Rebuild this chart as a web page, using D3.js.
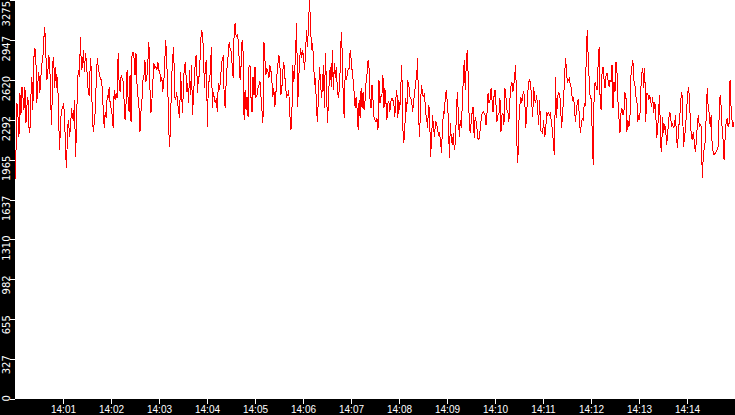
<!DOCTYPE html>
<html>
<head>
<meta charset="utf-8">
<script src="https://cdn.jsdelivr.net/npm/d3@7"></script>
<style>
  html, body { margin: 0; padding: 0; background: #000; }
  #chart { width: 735px; height: 415px; }
</style>
</head>
<body>
<div id="chart"></div>
<script>
// 計測値 (14:00:00 - 14:15:00)
const startTime = '14:00:00';
const endTime = '14:15:00';

const values = [
  // 14:00 - 14:03
  1798, 2030, 2427, 2317, 2153, 2509, 2331, 2564, 2482, 2372, 2564, 2263, 2400, 2482, 2235, 2181,
  2482, 2646, 2372, 2796, 2878, 2824, 2427, 2591, 2687, 2509, 2632, 2755, 2783, 2947, 3056, 2865,
  2618, 2659, 2824, 2769, 2427, 2249, 2755, 2810, 2550, 2728, 2550, 2646, 2290, 2044, 2290, 2372,
  2386, 2427, 2317, 2017, 1893, 2235, 2290, 2153, 2235, 2386, 2304, 2290, 2454, 1989, 2208, 2618,
  2700, 2646, 2974, 2700, 2728, 2865, 2687, 2837, 2769, 2632, 2509, 2495, 2796, 2700, 2304, 2194,
  2276, 2372, 2632, 2796, 2714, 2673, 2632, 2618, 2550, 2372, 2222, 2358, 2304, 2495, 2468, 2564,
  2413, 2386, 2331, 2222, 2536, 2454, 2509, 2468, 2837, 2591, 2523, 2659, 2632, 2605, 2454, 2290,
  2427, 2700, 2468, 2358, 2659, 2276, 2824, 2851, 2796, 2659, 2837, 2591, 2482, 2400, 2194, 2358,
  2454, 2618, 2646, 2783, 2605, 2646, 2769, 2933, 2564, 2345, 2441, 2605, 2755, 2714, 2728, 2700,
  2769, 2700,
  // 14:03 - 14:06
  2687, 2605, 2646, 2523, 2591, 2769, 2947, 2755, 2591, 2208, 2071, 2331, 2646, 2796, 2892, 2482,
  2454, 2523, 2427, 2358, 2304, 2687, 2495, 2345, 2632, 2728, 2769, 2523, 2591, 2427, 2700, 2495,
  2741, 2331, 2495, 2646, 2796, 2824, 2509, 2646, 2646, 2892, 3029, 3001, 2865, 2550, 2741, 2783,
  2235, 2605, 2605, 2687, 2892, 2386, 2523, 2468, 2427, 2468, 2358, 2591, 2536, 2591, 2714, 2796,
  2810, 2454, 2386, 2618, 2741, 2824, 2933, 2865, 2851, 2741, 2632, 3029, 3083, 2974, 2988, 2947,
  2796, 2618, 2741, 2947, 2851, 2290, 2536, 2372, 2482, 2317, 2741, 2728, 2468, 2358, 2646, 2495,
  2728, 2482, 2495, 2550, 2577, 2605, 2482, 2372, 2263, 2933, 2783, 2659, 2714, 2687, 2632, 2741,
  2700, 2618, 2482, 2550, 2400, 2495, 2646, 2741, 2824, 2783, 2495, 2536, 2687, 2769, 2659, 2550,
  2482, 2495, 2536, 2358, 2208, 2235, 2741, 2605, 2673, 2865, 3083, 2400, 2605, 2783, 2878, 2796,
  2865,
  // 14:06 - 14:09
  2796, 2700, 2851, 3029, 2892, 3083, 3275, 3070, 2865, 2919, 2796, 2577, 2632, 2386, 2276, 2495,
  2728, 2618, 2468, 2564, 2741, 2386, 2837, 2605, 2263, 2427, 2646, 2728, 2564, 2865, 2536, 2755,
  2632, 2728, 2550, 2468, 2536, 2728, 3015, 2837, 2454, 2304, 2714, 2618, 2659, 2714, 2714, 2865,
  2783, 2687, 2618, 2509, 2386, 2482, 2372, 2208, 2454, 2304, 2550, 2386, 2523, 2372, 2454, 2605,
  2673, 2783, 2714, 2454, 2386, 2577, 2454, 2317, 2290, 2276, 2304, 2208, 2618, 2427, 2482, 2495,
  2659, 2386, 2550, 2441, 2290, 2427, 2441, 2358, 2441, 2468, 2454, 2427, 2317, 2468, 2536, 2304,
  2454, 2372, 2564, 2741, 2235, 2099, 2194, 2468, 2358, 2605, 2591, 2482, 2468, 2441, 2358, 2454,
  2509, 2605, 2646, 2796, 2304, 2153, 2454, 2577, 2495, 2482, 2509, 2345, 2317, 2222, 2413, 2372,
  1989, 2126, 2331, 2235, 2153, 2276, 2263, 2222, 2167, 2181, 2126, 2017, 2222, 2358, 2345, 2495,
  2536,
  // 14:09 - 14:12
  2413, 2304, 1975, 2263, 2126, 2085, 2181, 2044, 2099, 2317, 2523, 2345, 2153, 2290, 2222, 2413,
  2618, 2783, 2536, 2741, 2865, 2646, 2276, 2181, 2276, 2358, 2400, 2140, 2317, 2276, 2208, 2126,
  2140, 2208, 2290, 2345, 2358, 2345, 2331, 2249, 2358, 2509, 2427, 2454, 2550, 2454, 2358, 2482,
  2536, 2413, 2276, 2331, 2345, 2468, 2194, 2331, 2345, 2249, 2550, 2482, 2372, 2358, 2276, 2454,
  2564, 2605, 2523, 2577, 2673, 2741, 2112, 1934, 2263, 2400, 2482, 2427, 2495, 2523, 2454, 2222,
  2358, 2509, 2605, 2618, 2577, 2441, 2317, 2564, 2454, 2427, 2495, 2386, 2249, 2454, 2208, 2194,
  2181, 2290, 2153, 2181, 2358, 2331, 2345, 2331, 2345, 2249, 2208, 2071, 2003, 2646, 2304, 2454,
  2523, 2495, 2454, 2222, 2317, 2454, 2591, 2796, 2714, 2591, 2618, 2632, 2577, 2550, 2454, 2468,
  2427, 2276, 2358, 2441, 2454, 2331, 2181, 2249, 2304, 2290, 2427, 2413, 2810, 3029, 2796, 2618,
  2468,
  // 14:12 - 14:15
  2468, 2194, 1921, 2536, 2605, 2564, 2536, 2755, 2892, 2454, 2372, 2700, 2728, 2618, 2550, 2659,
  2673, 2618, 2564, 2618, 2605, 2741, 2386, 2605, 2523, 2769, 2687, 2441, 2304, 2181, 2345, 2386,
  2331, 2358, 2509, 2495, 2194, 2290, 2235, 2276, 2646, 2728, 2783, 2618, 2591, 2482, 2468, 2276,
  2331, 2290, 2536, 2673, 2714, 2550, 2714, 2276, 2509, 2509, 2454, 2495, 2441, 2400, 2482, 2345,
  2441, 2372, 2140, 2208, 2372, 2495, 2085, 2030, 2317, 2181, 2249, 2235, 2085, 2167, 2276, 2358,
  2331, 2235, 2263, 2222, 2249, 2331, 2153, 2058, 2208, 2290, 2400, 2523, 2468, 2071, 2140, 2208,
  2345, 2468, 2564, 2482, 2276, 2153, 2126, 2194, 2099, 2030, 2112, 2249, 2331, 2235, 2249, 2235,
  1811, 1989, 2058, 2112, 2331, 2550, 2386, 2345, 2235, 2331, 2071, 2030, 2003, 2017, 2030, 2044,
  2071, 2317, 2495, 2400, 2222, 2126, 1962, 2140, 2263, 2304, 2235, 2263, 2618, 2400, 2290, 2235,
  2276,
];

const yTickValues = [0, 327, 655, 982, 1310, 1637, 1965, 2292, 2620, 2947, 3275];
const xTickLabels = ['14:01', '14:02', '14:03', '14:04', '14:05', '14:06', '14:07',
  '14:08', '14:09', '14:10', '14:11', '14:12', '14:13', '14:14'];

(function () {
  const WIDTH = 735;
  const HEIGHT = 415;
  const MARGIN = { TOP: 0, RIGHT: 0, BOTTOM: 16, LEFT: 15 };
  const plotHeight = HEIGHT - MARGIN.TOP - MARGIN.BOTTOM;

  const parseTime = d3.timeParse('%H:%M:%S');
  const parseMinute = d3.timeParse('%H:%M');
  const t0 = parseTime(startTime);
  const t1 = parseTime(endTime);

  // 等間隔サンプリングとして時刻を割り当てる
  const step = (t1 - t0) / values.length;
  const data = values.map((v, i) => ({ date: new Date(+t0 + i * step), value: v }));

  const xScale = d3.scaleTime().domain([t0, t1]).range([MARGIN.LEFT, WIDTH - MARGIN.RIGHT]);
  const yScale = d3.scaleLinear().domain([0, 3275]).range([MARGIN.TOP + plotHeight, MARGIN.TOP]);

  const svg = d3.select('#chart').append('svg')
    .attr('width', WIDTH)
    .attr('height', HEIGHT)
    .style('display', 'block')
    .style('font-family', '"DejaVu Sans", sans-serif')
    .style('font-size', '10px');

  svg.append('rect')
    .attr('width', WIDTH).attr('height', HEIGHT)
    .attr('fill', '#000');

  svg.append('rect')
    .attr('x', MARGIN.LEFT).attr('y', MARGIN.TOP)
    .attr('width', WIDTH - MARGIN.LEFT - MARGIN.RIGHT)
    .attr('height', plotHeight)
    .attr('fill', '#fff');

  svg.append('clipPath').attr('id', 'plot-clip')
    .append('rect')
    .attr('x', MARGIN.LEFT).attr('y', MARGIN.TOP)
    .attr('width', WIDTH - MARGIN.LEFT - MARGIN.RIGHT)
    .attr('height', plotHeight);

  // x軸
  const xAxis = d3.axisBottom(xScale)
    .tickValues(xTickLabels.map(parseMinute))
    .tickFormat(d3.timeFormat('%H:%M'))
    .tickSizeInner(5)
    .tickSizeOuter(0)
    .tickPadding(2);

  const gx = svg.append('g')
    .attr('transform', 'translate(0,' + (MARGIN.TOP + plotHeight) + ')')
    .call(xAxis);
  gx.select('.domain').remove();
  gx.selectAll('line').attr('stroke', '#fff').attr('shape-rendering', 'crispEdges');
  gx.selectAll('text')
    .attr('fill', '#fff')
    .attr('dy', null)
    .attr('y', 14)
    .style('font-size', '10px');

  // y軸 (ラベルは縦書き)
  const gy = svg.append('g');
  gy.selectAll('line')
    .data(yTickValues)
    .join('line')
    .attr('x1', MARGIN.LEFT - 5)
    .attr('x2', MARGIN.LEFT)
    .attr('y1', (d) => Math.round(yScale(d)) + 0.5)
    .attr('y2', (d) => Math.round(yScale(d)) + 0.5)
    .attr('stroke', '#fff')
    .attr('shape-rendering', 'crispEdges');

  gy.selectAll('text')
    .data(yTickValues)
    .join('text')
    .attr('fill', '#fff')
    .attr('text-anchor', 'end')
    .attr('transform', (d) => 'translate(10,' + Math.max(yScale(d) - 4, 1) + ') rotate(-90)')
    .text((d) => d);

  // 折れ線
  svg.append('path')
    .datum(data)
    .attr('clip-path', 'url(#plot-clip)')
    .attr('fill', 'none')
    .attr('stroke', '#ff0000')
    .attr('stroke-width', 1)
    .attr('shape-rendering', 'crispEdges')
    .attr('d', d3.line()
      .x((d) => xScale(d.date))
      .y((d) => yScale(d.value)));
})();
</script>
</body>
</html>
